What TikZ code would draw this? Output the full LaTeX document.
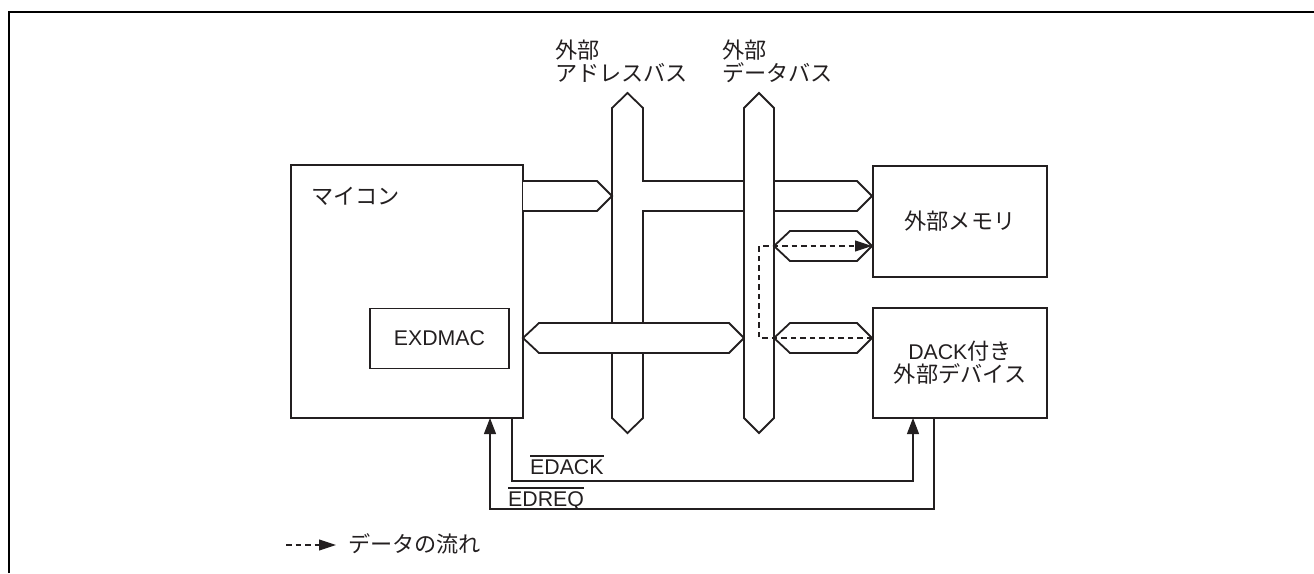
\documentclass[tikz,border=0pt]{standalone}
\usepackage{fontspec}
\setmainfont{Liberation Sans}
\newfontfamily\cjk[Scale=1.04]{Noto Sans CJK JP}
\usetikzlibrary{arrows.meta}
\definecolor{ink}{HTML}{231F20}
\newcommand\txtsize{\fontsize{21.3}{23}\selectfont}
\newcommand\ovl[1]{\vbox{\hrule height 1.1pt\kern 2.6pt\hbox{#1}}}
\begin{document}
\begin{tikzpicture}[x=1pt,y=-1pt,line join=miter,
  boxnode/.style={draw=ink,line width=1.8pt,inner sep=0pt,outer sep=0pt,fill=white,text=ink,font=\txtsize},
  bus/.style={draw=ink,line width=1.8pt,fill=white},
  sig/.style={draw=ink,line width=1.1pt},
  flow/.style={draw=ink,line width=1.1pt,dash pattern=on 5.5pt off 4pt},
  tipA/.style={-{Triangle[length=16pt,width=12pt]}},
  tipB/.style={-{Triangle[length=17pt,width=11pt]}},
  txt/.style={inner sep=0pt,anchor=base west,text=ink,font=\txtsize}]
\useasboundingbox (0,0) rectangle (1314,573);
% frame
\draw[black,line width=2.7pt] (9,573) -- (9,12) -- (1314,12);
% boxes
\node[boxnode,minimum width=232pt,minimum height=253pt] (mcu) at (407,291.5) {};
\node[boxnode,minimum width=139pt,minimum height=60pt] (exd) at (439.5,338.5) {EXDMAC};
\node[boxnode,minimum width=174pt,minimum height=111pt] (mem) at (960,221.5) {\cjk 外部メモリ};
\node[boxnode,minimum width=174pt,minimum height=110pt,align=center] (dev) at (960,363) {DACK{\cjk 付き}\\{\cjk 外部デバイス}};
% address bus (T shape)
\draw[bus] (612,108) -- (627.5,93) -- (643,108) -- (643,181) -- (857,181) -- (872,196) -- (857,211) -- (643,211) -- (643,418) -- (627.5,433) -- (612,418) -- cycle;
% MCU to address bus
\draw[bus] (mcu.east |- 0,181) -- (597,181) -- (612,196) -- (597,211) -- (mcu.east |- 0,211);
% EXDMAC data bus
\draw[bus] (mcu.east |- 0,338) -- (539,323) -- (729,323) -- (744,338) -- (729,353) -- (539,353) -- cycle;
% data bus vertical
\draw[bus] (744,108) -- (759,93) -- (774,108) -- (774,418) -- (759,433) -- (744,418) -- cycle;
% data bus to memory and device
\draw[bus] (774,246) -- (790,231) -- (857,231) -- (872,246) -- (857,261) -- (790,261) -- cycle;
\draw[bus] (774,338) -- (790,323) -- (857,323) -- (872,338) -- (857,353) -- (790,353) -- cycle;
% data flow
\coordinate (fs) at (872,338);
\coordinate (fc1) at (759,338);
\coordinate (fc2) at (759,246);
\coordinate (fe) at (872,246);
\draw[flow,tipB] (fs) -- (fc1) -- (fc2) -- (fe);
% control signals
\draw[sig,tipA] ([xshift=-11pt]mcu.south east) -- ++(0,63) -| ([xshift=40pt]dev.south west);
\draw[sig,tipA] ([xshift=61pt]dev.south west) -- ++(0,91) -| ([xshift=199pt]mcu.south west);
% labels
\node[txt] (lmcu) at (311,204.5) {\cjk マイコン};
\node[txt] (la1) at (555,58.5) {\cjk 外部};
\node[txt] (la2) at (555,81.5) {\cjk アドレスバス};
\node[txt] (ld1) at (722,58.5) {\cjk 外部};
\node[txt] (ld2) at (722,81.5) {\cjk データバス};
\node[txt] (lack) at (530,474) {\ovl{EDACK}};
\node[txt] (lreq) at (508,506) {\ovl{EDREQ}};
% legend
\coordinate (g1) at (286,545);
\coordinate (g2) at (336,545);
\draw[flow,tipB] (g1) -- (g2);
\node[txt] (lg) at (348,552.5) {\cjk データの流れ};
\end{tikzpicture}
\end{document}
